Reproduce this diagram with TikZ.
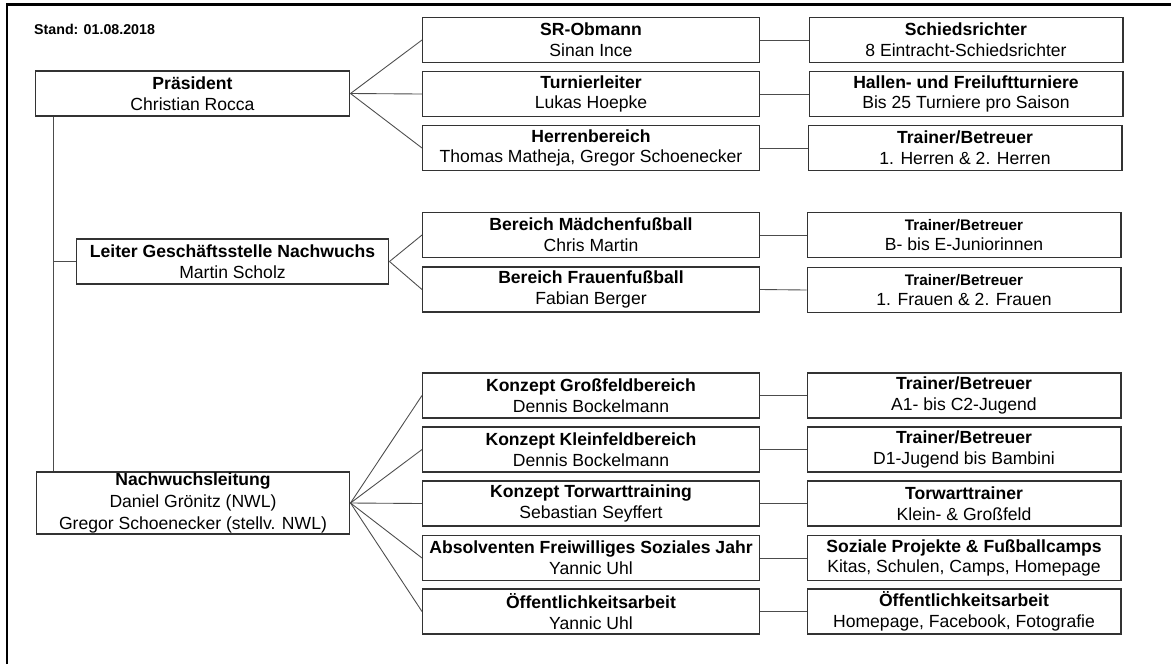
\documentclass[tikz,border=0pt]{standalone}
\usepackage{fontspec}
\setmainfont{Liberation Sans}
\usetikzlibrary{positioning}

\tikzset{
  orgbox/.style={draw=black!80, line width=0.6pt, align=center, inner sep=0pt,
    minimum height=0.9cm, font=\fontsize{10}{11.8}\selectfont},
  leftcol/.style={orgbox, minimum width=6.28cm},
  midcol/.style={orgbox, minimum width=6.74cm},
  rightcol/.style={orgbox, minimum width=6.28cm},
  link/.style={draw=black!70, line width=0.5pt},
}

\begin{document}
\begin{tikzpicture}[x=0.02cm, y=-0.02cm]

\useasboundingbox (0,0) rectangle (1171,664);
\draw[line width=1.7pt] (7,664) -- (7,4) -- (1171,4);

\node[anchor=west, font=\fontsize{8.1}{10}\selectfont\bfseries] (stand) at (28,29) {Stand: 01.08.2018};

% left column
\node[leftcol, minimum width=6.3cm] (praes) at (192.5,93.5) {\textbf{Präsident}\\Christian Rocca};
\node[leftcol, minimum width=6.26cm] (leiter) at (232.5,261.5) {\textbf{Leiter Geschäftsstelle Nachwuchs}\\Martin Scholz};
\node[leftcol, minimum height=1.24cm, font=\fontsize{10}{12.3}\selectfont] (nwl) at (193,503)
  {\textbf{Nachwuchsleitung}\\Daniel Grönitz (NWL)\\Gregor Schoenecker (stellv. NWL)};

% middle column
\node[midcol] (srobm) at (591,40) {\textbf{SR-Obmann}\\Sinan Ince};
\node[midcol] (turnier) at (591,94) {\textbf{Turnierleiter}\\Lukas Hoepke};
\node[midcol] (herren) at (591,148) {\textbf{Herrenbereich}\\Thomas Matheja,  Gregor Schoenecker};
\node[midcol] (maedchen) at (591,235) {\textbf{Bereich Mädchenfußball}\\Chris Martin};
\node[midcol] (frauen) at (591,289.5) {\textbf{Bereich Frauenfußball}\\Fabian Berger};
\node[midcol] (gross) at (591,395.5) {\textbf{Konzept Großfeldbereich}\\Dennis Bockelmann};
\node[midcol] (klein) at (591,449.5) {\textbf{Konzept Kleinfeldbereich}\\Dennis Bockelmann};
\node[midcol] (torw) at (591,503.5) {\textbf{Konzept Torwarttraining}\\Sebastian Seyffert};
\node[midcol] (fsj) at (591,558) {\textbf{Absolventen Freiwilliges Soziales Jahr}\\Yannic Uhl};
\node[midcol] (oeff) at (591,611.5) {\textbf{Öffentlichkeitsarbeit}\\Yannic Uhl};

% right column
\node[rightcol] (schiri) at (966,40) {\textbf{Schiedsrichter}\\8 Eintracht-Schiedsrichter};
\node[rightcol] (hallen) at (966,94) {\textbf{Hallen- und Freiluftturniere}\\Bis 25 Turniere pro Saison};
\node[rightcol] (tbherren) at (965,148) {\textbf{Trainer/Betreuer}\\1. Herren \& 2. Herren};
\node[rightcol] (tbmaedchen) at (964,235) {{\fontsize{8.7}{10}\selectfont\textbf{Trainer/Betreuer}}\\B- bis E-Juniorinnen};
\node[rightcol] (tbfrauen) at (964,290) {{\fontsize{8.7}{10}\selectfont\textbf{Trainer/Betreuer}}\\1. Frauen \& 2. Frauen};
\node[rightcol] (tbgross) at (964,395.5) {\textbf{Trainer/Betreuer}\\A1- bis C2-Jugend};
\node[rightcol] (tbklein) at (964,449.5) {\textbf{Trainer/Betreuer}\\D1-Jugend bis Bambini};
\node[rightcol] (tbtorw) at (964,503.5) {\textbf{Torwarttrainer}\\Klein- \& Großfeld};
\node[rightcol] (soziales) at (964,558) {\textbf{Soziale Projekte \& Fußballcamps}\\Kitas, Schulen, Camps, Homepage};
\node[rightcol] (tboeff) at (964,611.5) {\textbf{Öffentlichkeitsarbeit}\\Homepage, Facebook, Fotografie};

% trunk
\coordinate (trunk) at (53,0);
\draw[link] (trunk |- praes.south) -- (trunk |- nwl.north);
\draw[link] (trunk |- leiter.west) -- (leiter.west);

% fans
\foreach \c in {srobm,turnier,herren} \draw[link] (praes.east) -- (\c.west);
\foreach \c in {maedchen,frauen} \draw[link] (leiter.east) -- (\c.west);
\foreach \c in {gross,klein,torw,fsj,oeff} \draw[link] (nwl.east) -- (\c.west);

% rows
\draw[link] (srobm.east) -- (schiri.west);
\draw[link] (turnier.east) -- (hallen.west);
\draw[link] (herren.east) -- (tbherren.west);
\draw[link] (maedchen.east) -- (tbmaedchen.west);
\draw[link] (frauen.east) -- (tbfrauen.west);
\draw[link] (gross.east) -- (tbgross.west);
\draw[link] (klein.east) -- (tbklein.west);
\draw[link] (torw.east) -- (tbtorw.west);
\draw[link] (fsj.east) -- (soziales.west);
\draw[link] (oeff.east) -- (tboeff.west);

\end{tikzpicture}
\end{document}
